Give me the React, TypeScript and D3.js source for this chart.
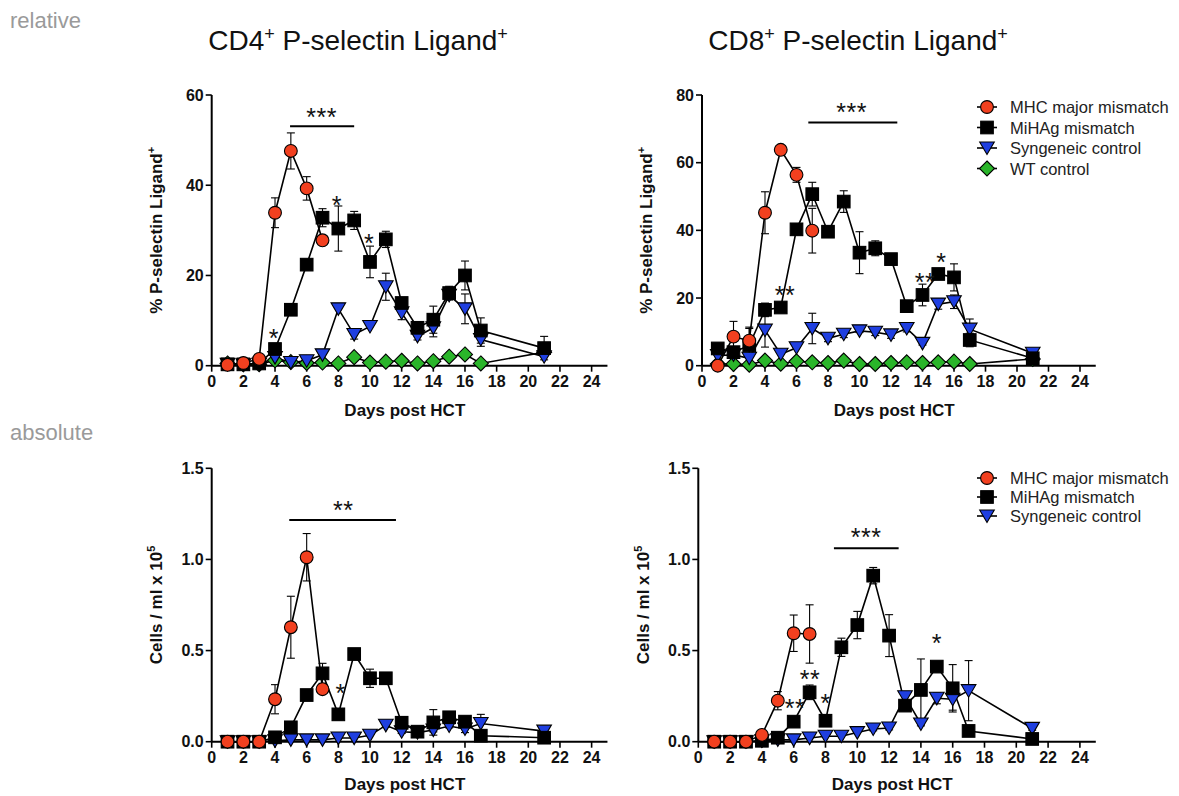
import React from "react";
import * as d3 from "d3";

// ---------- data ----------
const daysAll = [1, 2, 3, 4, 5, 6, 7, 8, 9, 10, 11, 12, 13, 14, 15, 16, 17, 21];
const daysMHC = [1, 2, 3, 4, 5, 6, 7];
const xTicks = [0, 2, 4, 6, 8, 10, 12, 14, 16, 18, 20, 22, 24];

const seriesNames = ["MHC major mismatch", "MiHAg mismatch", "Syngeneic control", "WT control"];
const seriesColors = ["#f2401f", "#000000", "#1f3fe0", "#2ab52a"];
const seriesShapes = ["circle", "square", "triangle", "diamond"];

// CD4 relative (%)
const cd4RelMHC = [0.2, 0.6, 1.5, 33.9, 47.6, 39.3, 27.8];
const cd4RelMHCErr = [0, 0, 0, 3.3, 4, 2.6, 0];
const cd4RelMiHA = [0.3, 0.3, 0.5, 3.7, 12.4, 22.4, 32.8, 30.4, 32.2, 23, 28, 13.9, 8.4, 10.2, 16.1, 20, 7.8, 3.9];
const cd4RelMiHAErr = [0, 0, 0, 0.5, 0.5, 0.5, 2, 5, 2, 3.5, 1.8, 1, 0.8, 3, 1.5, 3.2, 2.8, 2.6];
const cd4RelSyn = [0.3, 0.2, 0.3, 1.8, 0.7, 1.1, 2.4, 12.6, 6.9, 8.7, 17.5, 11.7, 6.5, 8.4, 15.6, 12.6, 5.8, 2];
const cd4RelSynErr = [0, 0, 0, 0, 0, 0, 0, 0, 1, 0, 3, 1.5, 0.8, 2, 1, 3.3, 1.5, 0];
const cd4RelWT = [0.5, 0.3, 0.3, 1.2, 0.8, 0.6, 0.7, 0.5, 1.9, 0.7, 0.9, 1.1, 0.5, 1, 2, 2.5, 0.5, 3];

// CD8 relative (%)
const cd8RelMHC = [0, 8.6, 7.4, 45.2, 63.8, 56.4, 39.9];
const cd8RelMHCErr = [0, 4.5, 4, 6.2, 0.5, 2.2, 6.6];
const cd8RelMiHA = [5.1, 4, 6, 16.5, 17.2, 40.3, 50.7, 39.6, 48.5, 33.4, 34.7, 31.5, 17.6, 20.9, 27.1, 26.1, 7.6, 2.2];
const cd8RelMiHAErr = [1.5, 0, 5, 2, 0.5, 1, 3.5, 0.5, 3.2, 6.2, 2.2, 1.5, 0.5, 3.2, 1, 4, 2, 1];
const cd8RelSyn = [3, 3.2, 2.2, 10.5, 3.4, 5.3, 11, 8.1, 9.3, 10.3, 9.9, 9.1, 11, 6.6, 18.2, 18.9, 10.8, 3.7];
const cd8RelSynErr = [0, 0, 0, 5, 0, 0, 4.5, 1, 1, 0.5, 1, 1, 1, 0.5, 1.5, 2, 3, 0.5];
const cd8RelWT = [0.5, 0.5, 0.3, 1.5, 0.6, 1.3, 1, 0.8, 1.5, 0.5, 0.5, 0.8, 1, 0.8, 1, 1.2, 0.5, 2];

// CD4 absolute (cells/ml x 10^5)
const cd4AbsMHC = [0, 0, 0, 0.233, 0.628, 1.012, 0.288];
const cd4AbsMHCErr = [0, 0, 0, 0.08, 0.17, 0.13, 0];
const cd4AbsMiHA = [0, 0, 0, 0.024, 0.079, 0.256, 0.375, 0.15, 0.481, 0.348, 0.348, 0.104, 0.055, 0.106, 0.134, 0.11, 0.033, 0.022];
const cd4AbsMiHAErr = [0, 0, 0, 0, 0.01, 0.01, 0.055, 0.03, 0.01, 0.05, 0.01, 0.01, 0.01, 0.07, 0.01, 0.02, 0.01, 0];
const cd4AbsSyn = [0, 0, 0, 0.005, 0.01, 0.01, 0.01, 0.02, 0.02, 0.035, 0.09, 0.055, 0.05, 0.064, 0.086, 0.07, 0.1, 0.058];
const cd4AbsSynErr = [0, 0, 0, 0, 0, 0, 0, 0, 0, 0, 0.01, 0.01, 0, 0.01, 0.01, 0.02, 0.05, 0.01];

// CD8 absolute (cells/ml x 10^5)
const cd8AbsMHC = [0, 0, 0, 0.037, 0.225, 0.595, 0.591];
const cd8AbsMHCErr = [0, 0, 0, 0, 0.05, 0.1, 0.16];
const cd8AbsMiHA = [0, 0, 0, 0.005, 0.022, 0.11, 0.271, 0.115, 0.518, 0.64, 0.911, 0.582, 0.198, 0.284, 0.412, 0.293, 0.059, 0.015];
const cd8AbsMiHAErr = [0, 0, 0, 0, 0, 0.01, 0.04, 0.01, 0.05, 0.075, 0.045, 0.115, 0.01, 0.17, 0.01, 0.13, 0.01, 0];
const cd8AbsSyn = [0, 0, 0, 0.005, 0.01, 0.01, 0.02, 0.03, 0.03, 0.05, 0.07, 0.075, 0.247, 0.097, 0.238, 0.233, 0.28, 0.073];
const cd8AbsSynErr = [0, 0, 0, 0, 0, 0, 0, 0, 0, 0, 0.01, 0.01, 0.02, 0.01, 0.03, 0.06, 0.165, 0.01];

// significance annotations: [day, value, text]
const cd4RelStars: [number, number, string][] = [[6.95, 56.2, "***"], [3.93, 7.3, "*"], [7.9, 36.7, "*"], [9.94, 28.4, "*"]];
const cd4RelBars: [number, number, number][] = [[4.95, 9.0, 53.1]];
const cd8RelStars: [number, number, string][] = [[9.5, 76.5, "***"], [5.27, 22.4, "**"], [14.16, 26.3, "**"], [15.2, 32.2, "*"]];
const cd8RelBars: [number, number, number][] = [[6.75, 12.4, 71.9]];
const cd4AbsStars: [number, number, string][] = [[8.31, 1.299, "**"], [8.15, 0.293, "*"]];
const cd4AbsBars: [number, number, number][] = [[4.9, 11.64, 1.217]];
const cd8AbsStars: [number, number, string][] = [[10.55, 1.153, "***"], [6.08, 0.211, "**"], [7.02, 0.372, "**"], [8.01, 0.238, "*"], [15.0, 0.567, "*"]];
const cd8AbsBars: [number, number, number][] = [[8.53, 12.6, 1.061]];

const relTicks = [0, 20, 40, 60];
const relTicks8 = [0, 20, 40, 60, 80];
const absTicks = [0, 0.5, 1.0, 1.5];

const FONT = "'Liberation Sans', Arial, Helvetica, sans-serif";

type Series = { idx: number; days: number[]; values: number[]; errors?: number[] };

function Marker({ shape, x, y, color }: { shape: string; x: number; y: number; color: string }) {
  const sw = 1.1;
  if (shape === "circle") return <circle cx={x} cy={y} r={6.4} fill={color} stroke="#000" strokeWidth={sw} />;
  if (shape === "square") return <rect x={x - 6.3} y={y - 6.3} width={12.6} height={12.6} fill={color} stroke="#000" strokeWidth={sw} />;
  if (shape === "triangle")
    return <path d={`M${x - 7.3},${y - 6} L${x + 7.3},${y - 6} L${x},${y + 6.5} Z`} fill={color} stroke="#000" strokeWidth={sw} />;
  return <path d={`M${x},${y - 7.5} L${x + 7.5},${y} L${x},${y + 7.5} L${x - 7.5},${y} Z`} fill={color} stroke="#000" strokeWidth={sw} />;
}

type PanelProps = {
  xLeft: number;
  xRight: number;
  yTop: number;
  yBottom: number;
  yMax: number;
  yTicks: number[];
  fmt: (v: number) => string;
  series: Series[];
  stars: [number, number, string][];
  bars: [number, number, number][];
  yLabel: React.ReactNode;
  yLabelX: number;
  xLabelY: number;
};

function Panel(p: PanelProps) {
  const x = d3.scaleLinear().domain([0, 25]).range([p.xLeft, p.xRight]);
  const y = d3.scaleLinear().domain([0, p.yMax]).range([p.yBottom, p.yTop]);
  const line = d3
    .line<[number, number]>()
    .x((d) => x(d[0]))
    .y((d) => y(d[1]));
  const order = [...p.series].sort((a, b) => b.idx - a.idx);
  const y0 = y(0);
  return (
    <g>
      {order.map((s) => (
        <path
          key={"l" + s.idx}
          d={line(s.days.map((d, i) => [d, s.values[i]] as [number, number])) || ""}
          fill="none"
          stroke="#000"
          strokeWidth={1.6}
        />
      ))}
      {order.map((s) =>
        (s.errors || []).map((e, i) =>
          e > 0 ? (
            <g key={"e" + s.idx + "-" + i} stroke="#000" strokeWidth={1.1}>
              <line x1={x(s.days[i])} x2={x(s.days[i])} y1={y(s.values[i] + e)} y2={y(Math.max(0, s.values[i] - e))} />
              <line x1={x(s.days[i]) - 4} x2={x(s.days[i]) + 4} y1={y(s.values[i] + e)} y2={y(s.values[i] + e)} />
              {s.values[i] - e > 0 && (
                <line x1={x(s.days[i]) - 4} x2={x(s.days[i]) + 4} y1={y(s.values[i] - e)} y2={y(s.values[i] - e)} />
              )}
            </g>
          ) : null
        )
      )}
      <line x1={x(0)} x2={x(25)} y1={y0} y2={y0} stroke="#000" strokeWidth={2} />
      <line x1={x(0)} x2={x(0)} y1={y0} y2={y(p.yMax)} stroke="#000" strokeWidth={2} />
      {xTicks.map((t) => (
        <g key={"xt" + t}>
          <line x1={x(t)} x2={x(t)} y1={y0} y2={y0 + 6} stroke="#000" strokeWidth={1.6} />
          <text x={x(t)} y={y0 + 21} textAnchor="middle" fontFamily={FONT} fontWeight="bold" fontSize={16} fill="#111">
            {t}
          </text>
        </g>
      ))}
      {p.yTicks.map((t) => (
        <g key={"yt" + t}>
          <line x1={x(0) - 6} x2={x(0)} y1={y(t)} y2={y(t)} stroke="#000" strokeWidth={1.6} />
          <text x={x(0) - 8} y={y(t) + 5.5} textAnchor="end" fontFamily={FONT} fontWeight="bold" fontSize={16} fill="#111">
            {p.fmt(t)}
          </text>
        </g>
      ))}
      {order.map((s) =>
        s.days.map((d, i) => (
          <Marker key={"m" + s.idx + "-" + i} shape={seriesShapes[s.idx]} x={x(d)} y={y(s.values[i])} color={seriesColors[s.idx]} />
        ))
      )}
      {p.bars.map((b, i) => (
        <line key={"b" + i} x1={x(b[0])} x2={x(b[1])} y1={y(b[2])} y2={y(b[2])} stroke="#000" strokeWidth={2} />
      ))}
      {p.stars.map((s, i) => (
        <text
          key={"s" + i}
          x={x(s[0])}
          y={y(s[1]) + 14}
          textAnchor="middle"
          fontFamily={FONT}
          fontSize={25}
          letterSpacing={0.5}
          fill="#111"
        >
          {s[2]}
        </text>
      ))}
      <text x={x(12.2)} y={p.xLabelY} textAnchor="middle" fontFamily={FONT} fontWeight="bold" fontSize={17} fill="#111">
        Days post HCT
      </text>
      <text
        transform={`translate(${p.yLabelX},${(p.yTop + p.yBottom) / 2}) rotate(-90)`}
        textAnchor="middle"
        fontFamily={FONT}
        fontWeight="bold"
        fontSize={17}
        fill="#111"
      >
        {p.yLabel}
      </text>
    </g>
  );
}

function Legend({ x, y, step, n }: { x: number; y: number; step: number; n: number }) {
  return (
    <g>
      {seriesNames.slice(0, n).map((name, i) => (
        <g key={name}>
          <line x1={x - 10} x2={x + 10} y1={y + i * step} y2={y + i * step} stroke="#000" strokeWidth={1.6} />
          <Marker shape={seriesShapes[i]} x={x} y={y + i * step} color={seriesColors[i]} />
          <text x={x + 23} y={y + i * step + 6} fontFamily={FONT} fontSize={16.5} fill="#222">
            {name}
          </text>
        </g>
      ))}
    </g>
  );
}

function Title({ x, cd }: { x: number; cd: string }) {
  return (
    <text x={x} y={50} textAnchor="middle" fontFamily={FONT} fontSize={28} fill="#111">
      {cd}
      <tspan dy={-10} fontSize={18}>
        +
      </tspan>
      <tspan dy={10}> P-selectin Ligand</tspan>
      <tspan dy={-10} fontSize={18}>
        +
      </tspan>
    </text>
  );
}

export default function App() {
  const relLabel = (
    <>
      % P-selectin Ligand
      <tspan dy={-7} fontSize={11}>
        +
      </tspan>
    </>
  );
  const absLabel = (
    <>
      Cells / ml x 10
      <tspan dy={-7} fontSize={11}>
        5
      </tspan>
    </>
  );
  return (
    <svg
      width={1179}
      height={796}
      style={{ position: "absolute", left: 0, top: 0, background: "#fff" }}
      xmlns="http://www.w3.org/2000/svg"
    >
      <rect width={1179} height={796} fill="#fff" />
      <text x={10} y={28} fontFamily={FONT} fontSize={22} fill="#9a9a9a">
        relative
      </text>
      <text x={10} y={440} fontFamily={FONT} fontSize={22} fill="#9a9a9a">
        absolute
      </text>
      <Title x={358} cd="CD4" />
      <Title x={858} cd="CD8" />

      <Panel
        xLeft={211.7}
        xRight={211.7 + 25 * 15.83}
        yTop={95}
        yBottom={365.7}
        yMax={60}
        yTicks={relTicks}
        fmt={d3.format("d")}
        series={[
          { idx: 0, days: daysMHC, values: cd4RelMHC, errors: cd4RelMHCErr },
          { idx: 1, days: daysAll, values: cd4RelMiHA, errors: cd4RelMiHAErr },
          { idx: 2, days: daysAll, values: cd4RelSyn, errors: cd4RelSynErr },
          { idx: 3, days: daysAll, values: cd4RelWT },
        ]}
        stars={cd4RelStars}
        bars={cd4RelBars}
        yLabel={relLabel}
        yLabelX={162}
        xLabelY={416}
      />
      <Panel
        xLeft={702}
        xRight={702 + 25 * 15.75}
        yTop={95}
        yBottom={365.7}
        yMax={80}
        yTicks={relTicks8}
        fmt={d3.format("d")}
        series={[
          { idx: 0, days: daysMHC, values: cd8RelMHC, errors: cd8RelMHCErr },
          { idx: 1, days: daysAll, values: cd8RelMiHA, errors: cd8RelMiHAErr },
          { idx: 2, days: daysAll, values: cd8RelSyn, errors: cd8RelSynErr },
          { idx: 3, days: daysAll, values: cd8RelWT },
        ]}
        stars={cd8RelStars}
        bars={cd8RelBars}
        yLabel={relLabel}
        yLabelX={652}
        xLabelY={416}
      />
      <Panel
        xLeft={211.7}
        xRight={211.7 + 25 * 15.83}
        yTop={468.3}
        yBottom={741.7}
        yMax={1.5}
        yTicks={absTicks}
        fmt={d3.format(".1f")}
        series={[
          { idx: 0, days: daysMHC, values: cd4AbsMHC, errors: cd4AbsMHCErr },
          { idx: 1, days: daysAll, values: cd4AbsMiHA, errors: cd4AbsMiHAErr },
          { idx: 2, days: daysAll, values: cd4AbsSyn, errors: cd4AbsSynErr },
        ]}
        stars={cd4AbsStars}
        bars={cd4AbsBars}
        yLabel={absLabel}
        yLabelX={162}
        xLabelY={790}
      />
      <Panel
        xLeft={698.3}
        xRight={698.3 + 25 * 15.9}
        yTop={468.3}
        yBottom={741.7}
        yMax={1.5}
        yTicks={absTicks}
        fmt={d3.format(".1f")}
        series={[
          { idx: 0, days: daysMHC, values: cd8AbsMHC, errors: cd8AbsMHCErr },
          { idx: 1, days: daysAll, values: cd8AbsMiHA, errors: cd8AbsMiHAErr },
          { idx: 2, days: daysAll, values: cd8AbsSyn, errors: cd8AbsSynErr },
        ]}
        stars={cd8AbsStars}
        bars={cd8AbsBars}
        yLabel={absLabel}
        yLabelX={649}
        xLabelY={790}
      />
      <Legend x={987} y={107} step={20.5} n={4} />
      <Legend x={987} y={478} step={19} n={3} />
    </svg>
  );
}
